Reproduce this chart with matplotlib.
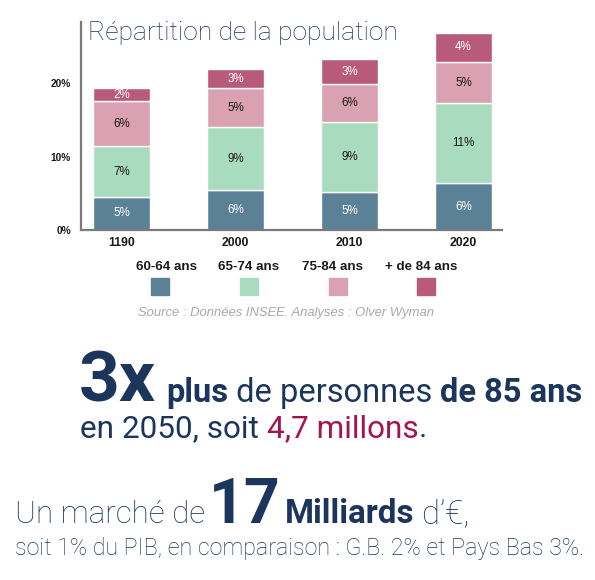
import matplotlib
matplotlib.use("Agg")
import matplotlib.pyplot as plt
from matplotlib.patches import Rectangle
import numpy as np

plt.rcParams['font.family'] = ['Liberation Sans', 'DejaVu Sans']

# ---------------- data ----------------
years = ["1190", "2000", "2010", "2020"]
series_names = ["60-64 ans", "65-74 ans", "75-84 ans", "+ de 84 ans"]
v_60_64 = [4.5, 5.4, 5.2, 6.35]
v_65_74 = [6.9, 8.6, 9.5, 10.9]
v_75_84 = [6.1, 5.3, 5.1, 5.6]
v_84p = [1.8, 2.6, 3.4, 4.0]
lab_60_64 = ["5%", "6%", "5%", "6%"]
lab_65_74 = ["7%", "9%", "9%", "11%"]
lab_75_84 = ["6%", "5%", "6%", "5%"]
lab_84p = ["2%", "3%", "3%", "4%"]
y_ticks = [0, 10, 20]
y_tick_labels = ["0%", "10%", "20%"]

values = [v_60_64, v_65_74, v_75_84, v_84p]
labels = [lab_60_64, lab_65_74, lab_75_84, lab_84p]
colors = ["#5b8196", "#a9dbbe", "#d9a1b1", "#b85a7a"]
label_colors = ["white", "#1a1a1a", "#1a1a1a", "white"]

NAVY = "#1b355c"
CRIMSON = "#a3144e"
BIGFONT = ['Roboto', 'Liberation Sans', 'DejaVu Sans']

W, H = 595, 580
fig = plt.figure(figsize=(W / 100, H / 100), dpi=100)

def fx(px):
    return px / W

def fy(py):
    return 1 - py / H

ax = fig.add_axes([fx(80.7), fy(230), fx(502) - fx(80.7), fy(22) - fy(230)])
x = np.arange(len(years))
bottom = np.zeros(len(years))
for vals, labs, col, lcol in zip(values, labels, colors, label_colors):
    bars = ax.bar(x, vals, width=0.5, bottom=bottom, color=col,
                  edgecolor="white", linewidth=1.0)
    ax.bar_label(bars, labels=labs, label_type="center", color=lcol,
                 fontsize=8.4)
    bottom = bottom + np.array(vals)

ax.set_xlim(-0.362, 3.338)
ax.set_ylim(0, 28.3)
ax.set_xticks(x)
ax.set_xticklabels(years, fontsize=8.8, fontweight="bold", color="#1a1a1a")
ax.set_yticks(y_ticks)
ax.set_yticklabels(y_tick_labels, fontsize=7.3, fontweight="bold", color="#1a1a1a")
ax.tick_params(axis="both", length=0)
ax.tick_params(axis="y", pad=7)
ax.tick_params(axis="x", pad=5)
for s in ["top", "right"]:
    ax.spines[s].set_visible(False)
for s in ["left", "bottom"]:
    ax.spines[s].set_color("#7a7a7a")
    ax.spines[s].set_linewidth(1.6)

fig.text(fx(88), fy(33), "Répartition de la population", fontsize=19.0,
         color=NAVY, va="center", ha="left", family=BIGFONT, fontweight="light")

# ---------------- legend ----------------
label_cx = [167, 249, 333, 421]
square_cx = [159.5, 248.5, 337.5, 426.5]
for name, col, lx, sx in zip(series_names, colors, label_cx, square_cx):
    fig.text(fx(lx), fy(267), name, fontsize=9.6, fontweight="bold",
             color="#1a1a1a", ha="center", va="center")
    fig.add_artist(Rectangle((fx(sx - 9), fy(295)), fx(18), 17 / H,
                             transform=fig.transFigure, color=col))

fig.text(fx(286), fy(313), "Source : Données INSEE. Analyses : Olver Wyman",
         fontsize=9.4, style="italic", color="#a8a8a8", ha="center", va="center")

# ---------------- big text ----------------
fig.canvas.draw()
renderer = fig.canvas.get_renderer()

def fit_group(runs, x0, x1, baseline):
    # runs: (text, weight, colour); all runs share one font size,
    # scaled so that the group spans x0..x1 pixels.
    base = 20.0
    total = 0.0
    for txt, weight, col in runs:
        t = fig.text(0, 0, txt, fontsize=base, fontweight=weight,
                     family=BIGFONT)
        total += t.get_window_extent(renderer=renderer).width
        t.remove()
    size = base * (x1 - x0) / total
    xc = fx(x0)
    for txt, weight, col in runs:
        t = fig.text(xc, fy(baseline), txt, fontsize=size, fontweight=weight,
                     color=col, ha="left", va="baseline", family=BIGFONT)
        xc += t.get_window_extent(renderer=renderer).width / W

fit_group([("3x", "bold", NAVY)], 79, 156, 401.7)
fit_group([("plus", "bold", NAVY),
           (" de personnes ", "normal", NAVY),
           ("de 85 ans", "bold", NAVY)], 166, 582, 401.7)
fit_group([("en 2050, soit ", "normal", NAVY),
           ("4,7 millons", "normal", CRIMSON),
           (".", "normal", NAVY)], 80, 426, 436.7)
fit_group([("Un marché de", "light", NAVY)], 15, 205, 523)
fit_group([("17", "bold", NAVY)], 209, 281, 523)
fit_group([("Milliards", "bold", NAVY),
           (" d\u2019\u20ac,", "light", NAVY)], 285, 470, 523)
fit_group([("soit 1% du PIB, en comparaison : G.B. 2% et Pays Bas 3%.",
            "light", NAVY)], 15, 583, 555)

fig.savefig("out.png", dpi=100)
